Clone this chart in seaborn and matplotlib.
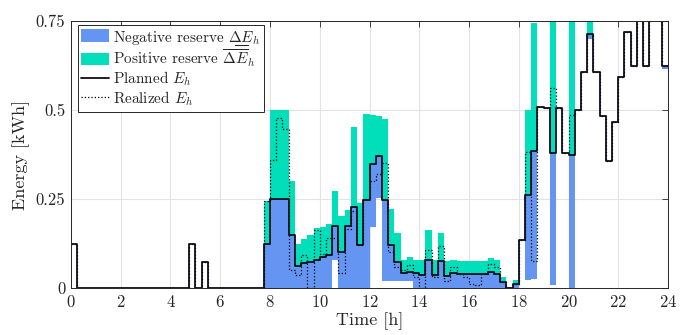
import numpy as np
import pandas as pd
import matplotlib
matplotlib.use("Agg")
import matplotlib.pyplot as plt
import seaborn as sns
from matplotlib.lines import Line2D
from matplotlib.patches import Patch
from matplotlib.mathtext import MathTextParser

# ---------------------------------------------------
# Data (15 min resolution, 96 intervals)
# ---------------------------------------------------
planned = [
    0.125, 0, 0, 0, 0, 0, 0, 0, 0, 0, 0, 0, 0, 0, 0, 0, 0, 0, 0, 0.125,
    0, 0.074, 0, 0, 0, 0, 0, 0, 0, 0, 0, 0.125,
    0.25, 0.25, 0.25, 0.15, 0.062, 0.069, 0.074, 0.08,
    0.088, 0.092, 0.175, 0.10, 0.175, 0.227, 0.122, 0.247,
    0.348, 0.37, 0.247, 0.121, 0.074, 0.041, 0.045, 0.042,
    0.037, 0.08, 0.036, 0.076, 0.035, 0.042, 0.04, 0.04,
    0.038, 0.038, 0.038, 0.046, 0.04, 0.018, 0.0, 0.011,
    0.135, 0.26, 0.384, 0.509, 0.505, 0.378, 0.505, 0.378,
    0.374, 0.50, 0.607, 0.715, 0.607, 0.484, 0.357, 0.467,
    0.594, 0.718, 0.625, 0.78, 0.625, 0.78, 0.78, 0.624,
]

realized = [
    0.125, 0, 0, 0, 0, 0, 0, 0, 0, 0, 0, 0, 0, 0, 0, 0, 0, 0, 0, 0.125,
    0, 0.074, 0, 0, 0, 0, 0, 0, 0, 0, 0, 0.245,
    0.36, 0.477, 0.446, 0.05, 0.037, 0.093, 0.0, 0.163,
    0.095, 0.14, 0.14, 0.041, 0.165, 0.215, 0.12, 0.25,
    0.30, 0.32, 0.35, 0.10, 0.06, 0.05, 0.065, 0.03,
    0.0, 0.106, 0.03, 0.117, 0.02, 0.06, 0.04, 0.03,
    0.01, 0.008, 0.04, 0.067, 0.06, 0.018, 0.0, 0.011,
    0.135, 0.383, 0.077, 0.509, 0.505, 0.563, 0.505, 0.378,
    0.486, 0.50, 0.607, 0.715, 0.607, 0.484, 0.357, 0.467,
    0.594, 0.718, 0.625, 0.78, 0.625, 0.78, 0.78, 0.624,
]

# lower bound of the energy band (bottom of negative reserve)
e_lower = list(planned)
lower_bars = {
    31: 0, 32: 0, 33: 0, 34: 0, 35: 0, 36: 0, 37: 0, 38: 0, 39: 0, 40: 0, 41: 0,
    42: 0.079, 43: 0, 44: 0, 45: 0, 46: 0, 47: 0,
    48: 0.172, 49: 0.252, 50: 0.02, 51: 0.02, 52: 0.02, 53: 0.02, 54: 0.02,
    55: 0, 56: 0, 57: 0, 58: 0, 59: 0, 60: 0, 61: 0, 62: 0, 63: 0, 64: 0,
    65: 0, 66: 0, 67: 0, 68: 0, 69: 0, 71: 0,
    73: 0.022, 74: 0.026, 77: 0.008, 80: 0.0, 83: 0.70, 95: 0.615,
}
# upper bound of the energy band (top of positive reserve)
e_upper = list(planned)
upper_bars = {
    31: 0.245, 32: 0.5, 33: 0.5, 34: 0.5, 35: 0.30, 36: 0.124, 37: 0.137,
    38: 0.149, 39: 0.168, 40: 0.172, 41: 0.18, 42: 0.273, 43: 0.202,
    44: 0.219, 45: 0.453, 46: 0.238, 47: 0.49, 48: 0.485, 49: 0.482,
    50: 0.474, 51: 0.221, 52: 0.154, 53: 0.079, 54: 0.086, 55: 0.079,
    56: 0.079, 57: 0.163, 58: 0.079, 59: 0.154, 60: 0.077, 61: 0.08,
    62: 0.076, 63: 0.076, 64: 0.076, 65: 0.076, 66: 0.076, 67: 0.083,
    68: 0.08, 69: 0.032, 71: 0.022,
    73: 0.5, 74: 0.745, 77: 0.8, 80: 0.8, 83: 0.75,
}
for k, v in lower_bars.items():
    e_lower[k] = v
for k, v in upper_bars.items():
    e_upper[k] = v

step = 0.25
time = np.arange(len(planned)) * step

df = pd.DataFrame({"time": time, "planned": planned, "realized": realized,
                   "lower": e_lower, "upper": e_upper})
df["neg"] = df["planned"] - df["lower"]
df["pos"] = df["upper"] - df["planned"]

# stair lines need the right edge
df_line = pd.concat([df, df.iloc[[-1]].assign(time=24.0)], ignore_index=True)

# ---------------------------------------------------
# Style
# ---------------------------------------------------
sns.set_theme(style="whitegrid")
plt.rcParams["font.family"] = ["cmr10", "DejaVu Serif"]
plt.rcParams["mathtext.fontset"] = "cm"
plt.rcParams["axes.formatter.use_mathtext"] = True

blue = "#6495f2"
green = "#00dfb9"

fig = plt.figure(figsize=(6.8, 3.35), dpi=100)
ax = fig.add_axes([0.1044, 0.1403, 0.8780, 0.7967])

ax.bar(df["time"], df["neg"], bottom=df["lower"], width=step, align="edge",
       color=blue, linewidth=0, zorder=2)
ax.bar(df["time"], df["pos"], bottom=df["planned"], width=step, align="edge",
       color=green, linewidth=0, zorder=2)

sns.lineplot(data=df_line, x="time", y="realized", drawstyle="steps-post",
             color="black", linestyle=":", linewidth=0.9, estimator=None,
             ax=ax, zorder=3)
sns.lineplot(data=df_line, x="time", y="planned", drawstyle="steps-post",
             color="#0d0d1a", linewidth=1.3, estimator=None, ax=ax, zorder=4)

ax.set_xlim(0, 24)
ax.set_ylim(0, 0.75)
ax.set_xticks(np.arange(0, 25, 2))
ax.set_yticks([0, 0.25, 0.5, 0.75])
ax.set_yticklabels(["0", "0.25", "0.5", "0.75"])
ax.set_xlabel("Time [h]", fontsize=13, labelpad=2)
ax.set_ylabel("Energy [kWh]", fontsize=13, labelpad=4)
ax.tick_params(axis="both", labelsize=12, direction="in", length=4,
               width=0.6, top=True, right=True, colors="#262626",
               labelcolor="#262626", pad=4)
ax.grid(True, color="#e3e3e3", linewidth=0.8)
ax.set_axisbelow(True)
ax.set_facecolor("white")
for s in ax.spines.values():
    s.set_color("#262626")
    s.set_linewidth(0.7)
    s.set_zorder(5)


def mathtext_ok(s):
    try:
        MathTextParser("path").parse(s)
        return True
    except Exception:
        return False


# legend labels (mathtext has no \underline, so build one if needed)
neg_label = r"Negative reserve $\underline{\Delta E}_h$"
if not mathtext_ok(r"$\underline{\Delta E}_h$"):
    if mathtext_ok(r"$\underset{\overline{\quad\;}}{\Delta E}_h$"):
        neg_label = r"Negative reserve $\underset{\overline{\quad\;}}{\Delta E}_h$"
    else:
        neg_label = r"Negative reserve $\Delta E_h$"

handles = [
    Patch(facecolor=blue, edgecolor="none"),
    Patch(facecolor=green, edgecolor="none"),
    Line2D([], [], color="#0d0d1a", linewidth=1.3),
    Line2D([], [], color="black", linestyle=":", linewidth=0.9),
]
labels = [neg_label, r"Positive reserve $\overline{\Delta E}_h$",
          r"Planned $E_h$", r"Realized $E_h$"]
leg = ax.legend(handles, labels, loc="upper left", bbox_to_anchor=(0.011, 0.985),
                borderaxespad=0, fontsize=11, frameon=True, fancybox=False,
                framealpha=1, edgecolor="#262626", handlelength=1.8,
                handleheight=0.9, handletextpad=0.25, labelspacing=0.05,
                borderpad=0.25)
leg.get_frame().set_linewidth(0.7)
leg.set_zorder(6)

fig.savefig("out.png", dpi=100)
